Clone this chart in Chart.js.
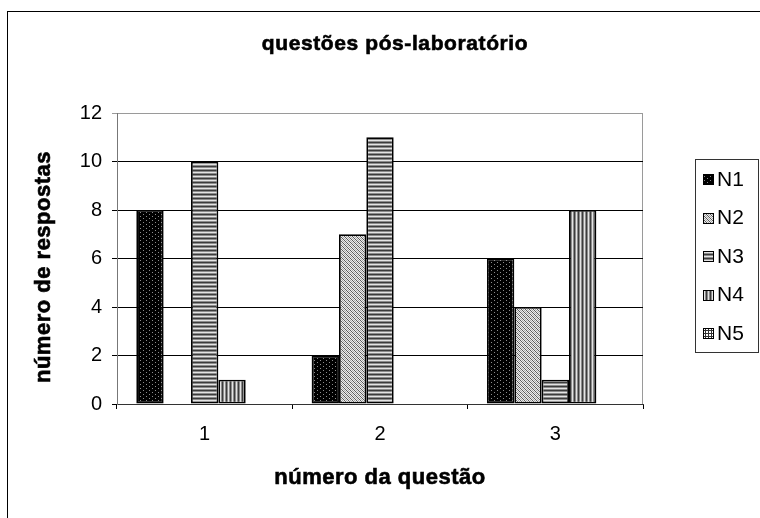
<!DOCTYPE html>
<html>
<head>
<meta charset="utf-8">
<script src="https://cdn.jsdelivr.net/npm/chart.js@4/dist/chart.umd.min.js"></script>
<style>
  html, body { margin: 0; padding: 0; background: #fff; }
  #wrap { width: 760px; height: 518px; position: relative; }
</style>
</head>
<body>
<div id="wrap"><canvas id="c"></canvas></div>
<script>
// Answers per question, split by level N1..N5
const questions = ['1', '2', '3'];
const levelNames = ['N1', 'N2', 'N3', 'N4', 'N5'];
const n1 = [8, 2, 6];
const n2 = [0, 7, 4];
const n3 = [10, 11, 1];
const n4 = [1, 0, 8];
const n5 = [0, 0, 0];
const yTickValues = [0, 2, 4, 6, 8, 10, 12];

const chartTitle = 'questões pós-laboratório';
const xTitle = 'número da questão';
const yTitle = 'número de respostas';

const FONT = '"Liberation Sans", Arial, Helvetica, sans-serif';

// Small repeating fill tiles, one per level
function tile(w, h, paint) {
  const c = document.createElement('canvas');
  c.width = w; c.height = h;
  const g = c.getContext('2d');
  paint(g);
  return g.createPattern(c, 'repeat');
}
const stripe = ['#e4e4e4', '#8c8c8c', '#3c3c3c', '#8c8c8c'];
const fills = [
  // dotted black
  tile(6, 4, g => {
    g.fillStyle = '#000'; g.fillRect(0, 0, 6, 4);
    g.fillStyle = '#8c8c8c'; g.fillRect(2, 0, 1, 1); g.fillRect(5, 2, 1, 1);
  }),
  // fine diagonal hatch
  tile(4, 4, g => {
    for (let y = 0; y < 4; y++) for (let x = 0; x < 4; x++) {
      const k = (x - y + 8) % 4;
      g.fillStyle = k === 0 ? '#5a5a5a' : (k === 2 ? '#a8a8a8' : '#ececec');
      g.fillRect(x, y, 1, 1);
    }
  }),
  // horizontal stripes
  tile(1, 4, g => {
    stripe.forEach((c, i) => { g.fillStyle = c; g.fillRect(0, i, 1, 1); });
  }),
  // vertical stripes
  tile(4, 1, g => {
    stripe.forEach((c, i) => { g.fillStyle = c; g.fillRect(i, 0, 1, 1); });
  }),
  // grid
  tile(3, 3, g => {
    g.fillStyle = '#fff'; g.fillRect(0, 0, 3, 3);
    g.fillStyle = '#333'; g.fillRect(0, 0, 3, 1); g.fillRect(0, 0, 1, 3);
  })
];

const seriesValues = [n1, n2, n3, n4, n5];
const datasets = levelNames.map((name, i) => ({
  label: name,
  data: seriesValues[i],
  backgroundColor: fills[i],
  borderColor: '#000',
  borderWidth: 1.8,
  borderSkipped: false,
  categoryPercentage: 0.78,
  barPercentage: 1.0
}));

// heavy bold text: fill plus a thin outline
function heavyText(ctx, text, x, y) {
  ctx.fillText(text, x, y);
  ctx.lineWidth = 0.6;
  ctx.strokeStyle = '#000';
  ctx.strokeText(text, x, y);
}

// Frame, plot border, titles and legend box
const decor = {
  id: 'decor',
  beforeDraw(chart) {
    const ctx = chart.ctx;
    const a = chart.chartArea;
    ctx.save();
    ctx.fillStyle = '#fff';
    ctx.fillRect(0, 0, chart.width, chart.height);
    ctx.strokeStyle = '#000';
    ctx.lineWidth = 1;
    ctx.strokeRect(7.5, 11.5, chart.width + 40, chart.height + 40);
    ctx.strokeStyle = '#9a9a9a';
    ctx.strokeRect(a.left + 0.5, a.top + 0.5, a.right - a.left - 1, a.bottom - a.top);
    ctx.restore();
  },
  afterDraw(chart) {
    const ctx = chart.ctx;
    const a = chart.chartArea;
    ctx.save();
    ctx.fillStyle = '#000';
    ctx.textBaseline = 'middle';

    // chart title
    ctx.font = 'bold 21px ' + FONT;
    ctx.letterSpacing = '0.6px';
    ctx.textAlign = 'center';
    heavyText(ctx, chartTitle, 395, 44);

    // axis titles
    ctx.font = 'bold 22px ' + FONT;
    ctx.letterSpacing = '0.5px';
    heavyText(ctx, xTitle, (a.left + a.right) / 2, 478);
    ctx.save();
    ctx.translate(44, 267);
    ctx.rotate(-Math.PI / 2);
    heavyText(ctx, yTitle, 0, 0);
    ctx.restore();

    // legend
    ctx.letterSpacing = '0px';
    ctx.strokeStyle = '#333';
    ctx.lineWidth = 1;
    ctx.strokeRect(695.5, 159.5, 63, 193);
    ctx.font = '21px ' + FONT;
    ctx.textAlign = 'left';
    chart.data.datasets.forEach((ds, i) => {
      const cy = 179 + i * 38.5;
      ctx.fillStyle = ds.backgroundColor;
      ctx.fillRect(703, Math.round(cy) - 5, 11, 11);
      ctx.strokeStyle = '#000';
      ctx.strokeRect(703.5, Math.round(cy) - 4.5, 10, 10);
      ctx.fillStyle = '#000';
      ctx.fillText(ds.label, 717, cy + 1);
    });
    ctx.restore();
  }
};

new Chart(document.getElementById('c'), {
  type: 'bar',
  data: { labels: questions, datasets },
  options: {
    responsive: true,
    maintainAspectRatio: false,
    animation: false,
    layout: { padding: { top: 113, right: 117, bottom: 0, left: 0 } },
    plugins: {
      legend: { display: false },
      title: { display: false },
      tooltip: { enabled: false }
    },
    scales: {
      x: {
        afterFit(scale) { scale.height = 114; },
        grid: {
          offset: true,
          drawOnChartArea: false,
          drawTicks: true,
          tickLength: 5,
          color: '#000'
        },
        border: { display: true, color: '#333', width: 1 },
        ticks: {
          color: '#000',
          padding: 13,
          maxRotation: 0,
          font: { family: FONT, size: 20 }
        }
      },
      y: {
        min: 0,
        max: 12,
        afterFit(scale) { scale.width = 117; },
        afterBuildTicks(scale) { scale.ticks = yTickValues.map(v => ({ value: v })); },
        grid: {
          color: ctx => (ctx.tick && ctx.tick.value === 12 ? '#9a9a9a' : '#000'),
          lineWidth: 1,
          tickLength: 5,
          drawTicks: true
        },
        border: { display: true, color: '#777', width: 1 },
        ticks: {
          color: '#000',
          padding: 10,
          font: { family: FONT, size: 20 }
        }
      }
    }
  },
  plugins: [decor]
});
</script>
</body>
</html>
